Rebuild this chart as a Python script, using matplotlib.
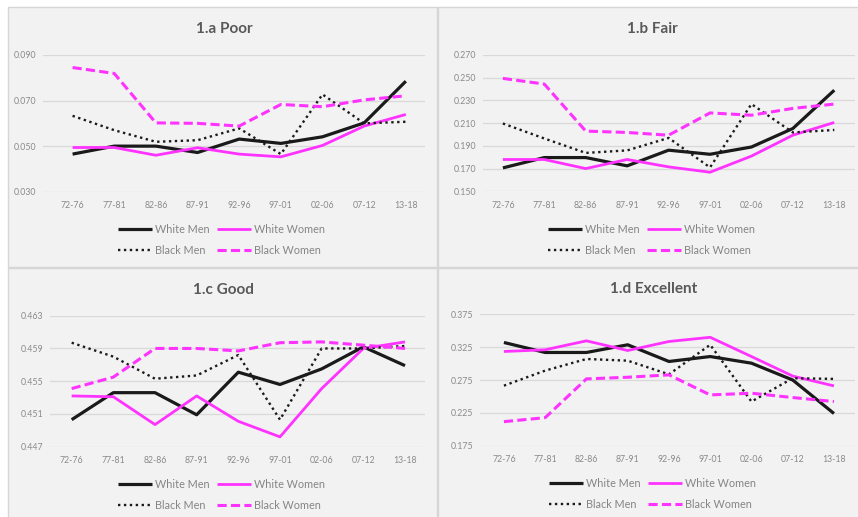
import matplotlib
matplotlib.use('Agg')
import matplotlib.pyplot as plt
import matplotlib.patches as patches
from matplotlib.ticker import FormatStrFormatter

# Period labels on the x axis
periods = ['72-76', '77-81', '82-86', '87-91', '92-96', '97-01', '02-06', '07-12', '13-18']
series_names = ['White Men', 'White Women', 'Black Men', 'Black Women']

# 1.a Poor
poor_white_men = [0.0465, 0.0500, 0.0500, 0.0472, 0.0531, 0.0512, 0.0541, 0.0602, 0.0785]
poor_white_women = [0.0494, 0.0494, 0.0460, 0.0493, 0.0465, 0.0453, 0.0503, 0.0588, 0.0639]
poor_black_men = [0.0633, 0.0570, 0.0519, 0.0526, 0.0578, 0.0465, 0.0727, 0.0600, 0.0607]
poor_black_women = [0.0845, 0.0819, 0.0602, 0.0600, 0.0588, 0.0683, 0.0673, 0.0703, 0.0721]

# 1.b Fair
fair_white_men = [0.1706, 0.1797, 0.1797, 0.1724, 0.1862, 0.1826, 0.1890, 0.2053, 0.2390]
fair_white_women = [0.1780, 0.1780, 0.1700, 0.1780, 0.1715, 0.1668, 0.1810, 0.1994, 0.2106]
fair_black_men = [0.2097, 0.1965, 0.1838, 0.1860, 0.1970, 0.1710, 0.2268, 0.2018, 0.2040]
fair_black_women = [0.2494, 0.2444, 0.2030, 0.2018, 0.1994, 0.2190, 0.2170, 0.2230, 0.2268]

# 1.c Good
good_white_men = [0.4503, 0.4536, 0.4536, 0.4509, 0.4561, 0.4546, 0.4565, 0.4592, 0.4569]
good_white_women = [0.4532, 0.4531, 0.4497, 0.4532, 0.4501, 0.4482, 0.4541, 0.4590, 0.4598]
good_black_men = [0.4597, 0.4580, 0.4553, 0.4557, 0.4582, 0.4503, 0.4590, 0.4590, 0.4593]
good_black_women = [0.4541, 0.4555, 0.4590, 0.4590, 0.4587, 0.4597, 0.4598, 0.4594, 0.4590]

# 1.d Excellent
exc_white_men = [0.3321, 0.3169, 0.3169, 0.3286, 0.3032, 0.3107, 0.3006, 0.2750, 0.2240]
exc_white_women = [0.3184, 0.3210, 0.3346, 0.3199, 0.3336, 0.3400, 0.3107, 0.2810, 0.2660]
exc_black_men = [0.2664, 0.2893, 0.3070, 0.3044, 0.2836, 0.3286, 0.2422, 0.2777, 0.2767]
exc_black_women = [0.2116, 0.2177, 0.2767, 0.2792, 0.2828, 0.2523, 0.2549, 0.2483, 0.2422]

W, H = 858, 517
BLACK = '#1a1a1a'
MAGENTA = '#ff33ff'
styles = [
    dict(color=BLACK, lw=2.3, ls='-'),
    dict(color=MAGENTA, lw=2.0, ls='-'),
    dict(color=BLACK, lw=1.7, ls=(0, (1, 1.5))),
    dict(color=MAGENTA, lw=2.2, ls=(0, (3, 1.4))),
]

# title, data, y ticks, panel rect (x0, y0, x1, y1 px), plot box (l, t, r, b px), xlim,
# title centre, legend anchor (left, middle)
panels = [
    ('1.a Poor', [poor_white_men, poor_white_women, poor_black_men, poor_black_women],
     [0.030, 0.050, 0.070, 0.090], (8, 7, 437, 267), (43, 55, 425, 191.7), (-0.71, 8.46),
     (224, 29), (118, 240)),
    ('1.b Fair', [fair_white_men, fair_white_women, fair_black_men, fair_black_women],
     [0.150, 0.170, 0.190, 0.210, 0.230, 0.250, 0.270], (438, 7, 870, 267), (483, 55, 855, 191.3),
     (-0.48, 8.5), (652, 29), (548, 240)),
    ('1.c Good', [good_white_men, good_white_women, good_black_men, good_black_women],
     [0.447, 0.451, 0.455, 0.459, 0.463], (8, 268, 437, 530), (50, 315.7, 425, 446.7),
     (-0.52, 8.48), (223, 290), (118, 495)),
    ('1.d Excellent', [exc_white_men, exc_white_women, exc_black_men, exc_black_women],
     [0.175, 0.225, 0.275, 0.325, 0.375], (438, 268, 870, 530), (480, 314.3, 855, 445.7),
     (-0.58, 8.51), (654, 289), (549, 494)),
]

plt.rcParams['font.family'] = ['Lato', 'DejaVu Sans']

fig = plt.figure(figsize=(W / 100, H / 100), dpi=100)
fig.patch.set_facecolor('white')

for title, data, yticks, rect, box, xlim, tpos, lpos in panels:
    # grey chart-area background for each panel
    x0, y0, x1, y1 = rect
    fig.add_artist(patches.Rectangle((x0 / W, 1 - y1 / H), (x1 - x0) / W, (y1 - y0) / H,
                                     transform=fig.transFigure, facecolor='#f2f2f2',
                                     edgecolor='#d6d6d6', lw=1.0, zorder=-5))

    l, t, r, b = box
    ax = fig.add_axes([l / W, 1 - b / H, (r - l) / W, (b - t) / H])
    ax.set_facecolor('none')

    x = list(range(len(periods)))
    handles = []
    for name, vals, st in zip(series_names, data, styles):
        h, = ax.plot(x, vals, label=name, color=st['color'], lw=st['lw'], ls=st['ls'],
                     solid_capstyle='butt', dash_capstyle='butt', zorder=3)
        handles.append(h)

    ax.set_xlim(*xlim)
    ax.set_ylim(yticks[0], yticks[-1])
    ax.set_yticks(yticks)
    ax.yaxis.set_major_formatter(FormatStrFormatter('%.3f'))
    ax.set_xticks(x)
    ax.set_xticklabels(periods)
    ax.grid(axis='y', color='#d9d9d9', lw=0.9)
    ax.set_axisbelow(True)
    for s in ax.spines.values():
        s.set_visible(False)
    ax.tick_params(length=0, labelsize=6.3, labelcolor='#8a8a8a')
    ax.tick_params(axis='y', pad=5)
    ax.tick_params(axis='x', pad=7)

    fig.text(tpos[0] / W, 1 - tpos[1] / H, title, ha='center', va='center',
             fontsize=11, fontweight='bold', color='#595959')

    # Legend: two rows, two columns
    order = [handles[0], handles[2], handles[1], handles[3]]
    leg = ax.legend(order, [h.get_label() for h in order], ncol=2, frameon=False,
                    loc='center left',
                    bbox_to_anchor=(lpos[0] / W, 1 - lpos[1] / H),
                    bbox_transform=fig.transFigure, fontsize=7.8,
                    handlelength=3.15, handletextpad=0.3, columnspacing=0.6,
                    labelspacing=0.95, borderpad=0, borderaxespad=0)
    for txt in leg.get_texts():
        txt.set_color('#858585')

fig.savefig('out.png', dpi=100, facecolor='white')
